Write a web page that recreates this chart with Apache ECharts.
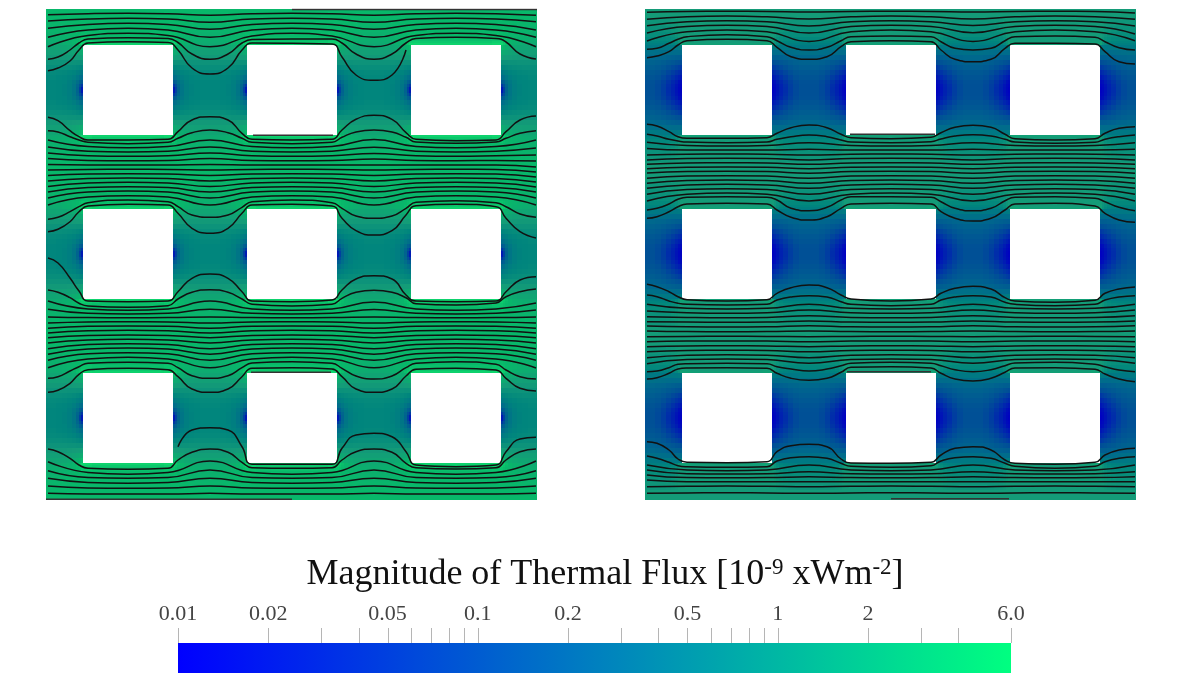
<!DOCTYPE html>
<html>
<head>
<meta charset="utf-8">
<style>html,body{margin:0;padding:0;background:#fff}#main{width:1189px;height:689px}</style>
<script src="https://cdn.jsdelivr.net/npm/echarts@6/dist/echarts.min.js"></script>
</head>
<body>
<div id="main"></div>
<script>
// x = plate position (0-491), y = plate position (9-500, top down)
var stationsNear = [2,12,24,33,42,82,122,132,146,164,182,196,206,246,286,296,310,328,346,360,370,410,450,460,474,490];
var stationsFar = [2,42,82,122,164,206,246,286,328,370,410,450,490];

var leftFar = [
  [14.7,13.7,13.3,13.8,15.3,13.8,13.3,13.8,15.3,13.8,13.3,13.8,15.3],
  [21,19,18.3,19,22.3,19,18.3,19,22.3,19,18.3,19,21.7],
  [28.3,24.5,23.3,24.5,29.3,24.5,23.3,24.5,29.3,24.5,23.3,24.5,30],
  [37.3,30,28.3,30,37.3,30,28.3,30,37.3,30,28.3,30,37.3],
  [46.7,35.5,33.3,35.5,46.7,36,33.3,36,46.7,35.5,33.3,35.5,46.7],

  [140,146.5,147.7,146.5,140,146.5,147.7,146.5,139.5,146.5,147.7,146.5,140],
  [147,151.2,152,151.2,147,151.2,152,151.2,147.3,151.2,152,151.2,148],
  [153,155.8,156.3,155.8,153,155.8,156.3,155.8,153.5,155.8,156.3,155.8,155],
  [158.5,160.4,160.7,160.4,158.5,160.4,160.7,160.4,159,160.4,160.7,160.4,161],
  [164.5,164.9,165,164.9,164.5,164.9,165,164.9,165,164.9,165,164.9,167],
  [170,169.4,169.3,169.4,170,169.4,169.3,169.4,170,169.4,169.3,169.4,172],
  [175.5,174,173.7,174,175.5,174,173.7,174,175.5,174,173.7,174,177],
  [181,178.5,178,178.5,181,178.5,178,178.5,181,178.5,178,178.5,182],
  [186.5,183,182.3,183,186.5,183,182.3,183,186.5,183,182.3,183,187],
  [192,187.5,186.7,187.5,192,187.5,186.7,187.5,192,187.5,186.7,187.5,192],
  [198,192,191,192,198,192,191,192,198,192,191,192,198],
  [205,197,195.7,197,205,197,195.7,197,205,197,195.7,197,205],

  [301,308.9,310.3,308.9,301,308.9,310.3,308.9,302,308.9,310.3,308.9,303],
  [309.3,313.3,314,313.3,309.3,313.3,314,313.3,309.5,313.3,314,313.3,310],
  [317,317.6,317.7,317.6,317,317.6,317.7,317.6,317,317.6,317.7,317.6,317],
  [323,321.9,321.7,321.9,323,321.9,321.7,321.9,323,321.9,321.7,321.9,323],
  [328.3,326.3,326,326.3,328.3,326.3,326,326.3,328.3,326.3,326,326.3,328.3],
  [333,330.7,330.3,330.7,333,330.7,330.3,330.7,333,330.7,330.3,330.7,333],
  [337.7,335.4,335,335.4,337.7,335.4,335,335.4,337.7,335.4,335,335.4,337.7],
  [343,339.9,339.3,339.9,343,339.9,339.3,339.9,343,339.9,339.3,339.9,343],
  [348.7,344.5,343.7,344.5,348.7,344.5,343.7,344.5,348.7,344.5,343.7,344.5,348.7],
  [354.3,349,348,349,354.3,349,348,349,354.3,349,348,349,354.3],
  [360.3,353.8,352.7,353.8,360.3,353.8,352.7,353.8,360.3,353.8,352.7,353.8,360.3],
  [367.7,358.9,357.3,358.9,367.7,358.9,357.3,358.9,367.7,358.9,357.3,358.9,368],

  [461.7,472.5,474.3,472.5,461,472.5,474.3,472.5,461,472.5,474.3,472.5,461],
  [470.7,477.5,478.3,477.5,470,477.5,478.3,477.5,470,477.5,478.3,477.5,470.7],
  [478.3,482.5,483.3,482.5,478.3,482.5,483.3,482.5,478.3,482.5,483.3,482.5,478.3],
  [486,488,488.3,488,486,488,488.3,488,486,488,488.3,488,486],
  [493.3,494,494,494,493.3,494,494,494,493.3,494,494,494,493.3]
];

var leftNear = [
  [59.3,57,50,43,39,37.7,38.5,42.5,54,59.3,54,43,39.5,39,39,43,54,59.3,54,43,38.5,37.3,38.5,42,54,59],
  [70.7,68,61,50,43,41.7,42.5,50,68,74,68,50,43,43.3,44,57,75,80.3,75,50],

  [117.3,120.7,130.7,136.7,140,140,139.3,131.7,120,116.7,120,133.3,139.3,140,139.3,130,119.3,115.3,119.3,132.7,139.3,140.7,140,131.7,120,116],
  [130.7,132,136.7,140,142.3,143.7,142.3,138.3,132.7,130,132.7,138.3,142.3,143.7,142.3,137.3,132,130,132,137.3,142,143.3,142,138.3,133.3,130.7],
  [219.3,217.3,211.7,206.7,202.7,200,201.7,206.7,215,217.3,215,207.3,201.7,200,202.7,208.3,216,218.3,216,208.3,202.3,200.7,202.7,206.7,214,217.3],
  [231.7,229.3,221.7,211.7,206,204.3,205,213.3,228.3,233.3,228.3,213.3,205,204.3,206,218.3,230.7,235,230.7,215,205.7,204.3,206.7,218.3,231.7,238],

  [258,263,278,291,301,301.7,301,291.7,278.3,274,278.3,291.7,301,301.7,300,290,279,275.7,279,295,301,301.7,301,291.7,280,276.7],
  [290,292.3,297.7,303.3,306,307.3,305.7,299,292.3,289.7,292.3,299,304.3,306,304.3,298.3,292.3,290.3,292.3,297.7,303.7,305,303,296.7,291.7,289],
  [378.3,376.7,371,366.7,363.3,362.3,363.3,367.7,375.7,378.3,375.7,367.7,363,361.7,363.3,368.3,376,379,376,367.7,363.3,361.7,364.3,370,376.7,379],
  [392.3,390.3,383.3,374.3,369.7,368.3,369.7,376.7,389,392.3,389,376.7,368.3,367.7,369,376.7,389,392.3,389,376,369.3,368.3,370,378.3,388.3,391],

  [null,null,null,null,null,null,null,446.7,430,427.7,430,446.7,464.3,464.3,464.3,448.3,435,433.3,436.7,451.7,465,466.7,465,451.7,439,437.3],
  [449,451.7,458.3,465,468.3,469.3,468.3,460,452.3,449,452.3,462.3,467.7,468.3,467.7,460,451.7,449,452.3,463.3,467.7,469,467.7,460,451.7,449]
];

var rightFar = [
  [12.3,11.5,11.3,11.5,12,11.5,11.3,11.5,12,11.5,11.3,11.5,13],
  [19.3,16.8,16,16.8,19,16.8,16,16.8,19,16.8,16,16.8,19.3],
  [25.7,21.7,20.7,21.7,26,21.7,20.7,21.7,25.5,21.7,20.7,21.7,26],
  [33,26.5,25.3,26.5,33,26.5,25.3,26.5,32.7,26.5,25.3,26.5,34],
  [41,31.7,30,31.7,41.5,31.7,30,31.7,41.5,31.7,30,31.7,40.7],

  [142.3,145.5,146,145.5,142.7,145.5,146,145.5,142.7,145.5,146,145.5,142.7],
  [148.5,150,150,150,149.3,150,150,150,149.3,150,150,150,149.3],
  [155,154.2,154,154.2,155,154.2,154,154.2,155,154.2,154,154.2,155],
  [160,158.6,158.3,158.6,160,158.6,158.3,158.6,160,158.6,158.3,158.6,160],
  [164.3,162.9,162.7,162.9,164.3,162.9,162.7,162.9,164.3,162.9,162.7,162.9,164.3],
  [168.7,167.3,167,167.3,168.7,167.3,167,167.3,168.7,167.3,167,167.3,168.7],
  [173,171.6,171.3,171.6,173.3,171.6,171.3,171.6,173.3,171.6,171.3,171.6,173.3],
  [178.3,176.1,175.7,176.1,178.3,176.1,175.7,176.1,178.3,176.1,175.7,176.1,178.3],
  [183.3,180.5,180,180.5,183.3,180.5,180,180.5,183.3,180.5,180,180.5,183.3],
  [188.3,184.9,184.3,184.9,188.3,184.9,184.3,184.9,188.3,184.9,184.3,184.9,188.3],
  [194.3,189.5,188.7,189.5,194.3,189.5,188.7,189.5,194.3,189.5,188.7,189.5,194.3],
  [201,194.2,193,194.2,201,194.2,193,194.2,201,194.2,193,194.2,201],

  [304.3,308.3,309,308.3,304.3,308.3,309,308.3,304.3,308.3,309,308.3,304.3],
  [311,312.8,313.3,312.8,310,312.8,313.3,312.8,310,312.8,313.3,312.8,310],
  [316.7,317.4,317.7,317.4,315.7,317.4,317.7,317.4,315.7,317.4,317.7,317.4,315.7],
  [321.7,322.1,322.3,322.1,321,322.1,322.3,322.1,321,322.1,322.3,322.1,321],
  [326,326.8,327,326.8,325.7,326.8,327,326.8,325.7,326.8,327,326.8,325.7],
  [331,331.6,331.7,331.6,331,331.6,331.7,331.6,331,331.6,331.7,331.6,331],
  [336.7,336.4,336.3,336.4,336.7,336.4,336.3,336.4,336.7,336.4,336.3,336.4,336.7],
  [341.7,341.1,341,341.1,341.7,341.1,341,341.1,341.7,341.1,341,341.1,341.7],
  [346.7,345.9,345.7,345.9,346.7,345.9,345.7,345.9,346.7,345.9,345.7,345.9,346.7],
  [351.7,350.5,350.3,350.5,351.7,350.5,350.3,350.5,351.7,350.5,350.3,350.5,351.7],
  [357.7,355.2,354.7,355.2,357.7,355.2,354.7,355.2,357.7,355.2,354.7,355.2,357.7],
  [363.7,359.6,359,359.6,363.3,359.6,359,359.6,363.3,359.6,359,359.6,363.3],

  [465,469.9,470.7,469.9,465,469.9,470.7,469.9,465,469.9,470.7,469.9,465],
  [470,473.7,474,473.7,471.7,473.7,474,473.7,471.7,473.7,474,473.7,471.7],
  [475,477.6,477.7,477.6,476.7,477.6,477.7,477.6,476.7,477.6,477.7,477.6,476.7],
  [480,481.7,481.7,481.7,481.7,481.7,481.7,481.7,481.7,481.7,481.7,481.7,481.7],
  [486.7,486.3,486,486.3,486.7,486.3,486,486.3,486.7,486.3,486,486.3,486.7],
  [493.3,493,492.7,493,493.3,493,492.7,493,493.3,493,492.7,493,493.3]
];

var rightNear = [
  [49.3,48.3,43.3,39.3,36.7,34.7,36.7,40.7,47.3,50,47.3,40.7,36.7,36,36.7,41.7,48.3,50,48.3,40.7,36.7,36,37.3,41.7,47.7,50],
  [57.7,56,51.7,45,40.7,39.3,40.7,47.3,56.7,59.3,56.7,46.7,41.7,40.7,41.7,50,59.3,61.7,59.3,48.3,43.3,43.3,44,51.7,61.7,64],

  [124.3,126,131.7,136.7,138.3,138.3,137.7,133.3,127.7,125,127.7,134.3,137.7,138.7,137.3,132.7,127.3,125.3,127.3,134.3,138.7,140,138.7,133.3,128.3,126.7],
  [134.3,136,139.3,141,142,142.7,142,139.3,136.7,135,136.7,140,142,142.7,141.7,139,136,134.7,136,139.3,142,143.3,142.3,139.3,136.7,135],
  [210,208.3,204,199.3,197.3,196.7,197.3,200,208.3,210.7,207.3,200,196.7,196.7,197.3,201.7,208.3,210.7,208.3,200.7,197.3,196.7,198.3,201.7,207.3,210.7],
  [218.3,216.7,211.7,206.7,204,203.3,204,210,217.3,220,216.7,208.3,204,203.3,204,211.7,218.3,221,218.3,210,204,203.3,206,213.3,220,222.3],

  [284.3,286.7,291.7,296.7,299.7,301,299.7,293.3,287.7,285,287.7,295,299,301,299,293.3,288.3,286.3,289,297.7,301,302.3,300.3,293.3,289,287],
  [295,296.7,301,303.3,304.3,305,304.3,300,297,295.7,297,301.7,304.3,305.7,304.3,300,297,295.7,297,302.3,304.3,305.7,304.3,300,297,295.7],
  [371.7,371,367.7,364.3,363.7,363.3,363.7,366.7,369,371,369,365.7,363.3,362.3,363.3,365.7,369.7,371.7,369.7,365.7,363,362.3,364.3,366.7,370,371.7],
  [379,377.7,373.3,369,368,367.7,368.3,373.3,378.3,380.3,378.3,372.3,367.3,366.7,368,373.3,379,381,378.3,372.3,368,367.7,369.3,374,379,381.7],

  [441.7,443.3,450,459,462.3,462.7,461.7,451.7,445.7,444.3,446.7,459,463,463.3,462.3,455,448.3,446.7,450,460,463.3,464.3,462.3,455,450,448.3],
  [456,458.3,462.3,465.7,466.7,467.3,466.7,461,457.7,456.7,458.3,463.3,466.3,467.3,465.7,461,457.7,456.7,458.3,463.3,466.3,468.3,466.3,461.7,458.3,456.7]
];

// short dark pieces on hole and plate edges: x from, x to, y
var leftEdges = [[207,287,135.3],[205,285,372.3],[246,491,9.5],[0,246,499.3]];
var rightEdges = [[205,290,134.3],[202,286,371.7],[246,364,498.7]];

var cellX = [0,20,36,45,47,49,52,56,61,66,72,82];
var cellY = [0,3,6,10,15,20,25,30,35,40,45,47,49,53,58,64,72,82];
var holeCentreX = [82,246,410];
var holeCentreY = [90,254,418];

var fluxLeft = [
  [null,null,null,.025,.06,.13,.2,.25,.28,.3,.31],
  [null,null,null,.05,.08,.14,.2,.25,.28,.3,.31],
  [null,null,null,.1,.12,.17,.22,.26,.29,.3,.31],
  [null,null,null,.16,.18,.21,.25,.28,.3,.31,.32],
  [null,null,null,.22,.24,.26,.29,.31,.32,.33,.34],
  [null,null,null,.3,.31,.32,.34,.35,.36,.37,.37],
  [null,null,null,.4,.4,.4,.41,.41,.42,.42,.42],
  [null,null,null,.55,.53,.51,.5,.49,.48,.48,.48],
  [null,null,null,.75,.7,.65,.61,.58,.56,.55,.55],
  [null,null,null,1.1,.95,.85,.76,.7,.66,.64,.63],
  [1.8,1.8,2,2,1.5,1.2,.95,.85,.8,.75,.72],
  [1.4,1.4,1.6,1.6,1.3,1.1,.95,.87,.82,.78,.76],
  [1.2,1.2,1.3,1.3,1.15,1.02,.95,.9,.85,.82,.8],
  [1.05,1.05,1.1,1.1,1.02,.98,.95,.92,.88,.86,.85],
  [1,1,1,1,1,.98,.95,.94,.92,.9,.9],
  [1,1,1,1,1,1,1,.98,.97,.96,.95],
  [1,1,1,1,1,1,1,1,1,1,1]
];

var fluxRight = [
  [null,null,null,.013,.016,.022,.03,.04,.055,.07,.08],
  [null,null,null,.014,.017,.023,.031,.042,.056,.07,.08],
  [null,null,null,.017,.02,.027,.035,.046,.06,.073,.082],
  [null,null,null,.024,.028,.034,.043,.054,.067,.08,.088],
  [null,null,null,.035,.04,.046,.055,.066,.078,.09,.097],
  [null,null,null,.05,.055,.062,.07,.08,.092,.103,.11],
  [null,null,null,.075,.08,.085,.092,.1,.11,.12,.125],
  [null,null,null,.11,.11,.115,.12,.125,.135,.14,.145],
  [null,null,null,.16,.16,.16,.16,.165,.17,.175,.18],
  [null,null,null,.24,.23,.22,.22,.22,.22,.22,.225],
  [.55,.55,.6,.6,.4,.33,.29,.27,.26,.26,.26],
  [.5,.5,.55,.55,.42,.36,.32,.3,.29,.29,.29],
  [.5,.5,.5,.5,.44,.38,.35,.33,.32,.32,.32],
  [.5,.5,.5,.5,.46,.42,.39,.37,.36,.36,.36],
  [.5,.5,.5,.5,.48,.45,.43,.41,.4,.4,.4],
  [.5,.5,.5,.5,.5,.48,.46,.45,.44,.44,.44],
  [.5,.5,.5,.5,.5,.5,.5,.5,.5,.5,.5]
];

// colours as they appear on the plates
var fieldFlux = [.012,.02,.04,.08,.15,.3,.5,1,2];
var fieldRgb = [[0,0,195],[0,15,185],[0,45,170],[0,80,150],[0,105,140],[0,133,125],[20,155,120],[8,183,106],[15,215,110]];

var barRange = [0.01,6];
var barColors = ['#0000ff','#00ff80'];
var barTicks = [.01,.02,.03,.04,.05,.06,.07,.08,.09,.1,.2,.3,.4,.5,.6,.7,.8,.9,1,2,3,4,6];
var barLabels = [.01,.02,.05,.1,.2,.5,1,2,6];

function fluxColor(v) {
  var i = 0;
  while (i < fieldFlux.length - 2 && v > fieldFlux[i + 1]) i++;
  var t = (Math.log(v) - Math.log(fieldFlux[i])) / (Math.log(fieldFlux[i + 1]) - Math.log(fieldFlux[i]));
  t = Math.max(0, Math.min(1, t));
  var a = fieldRgb[i], b = fieldRgb[i + 1];
  return 'rgb(' + [0,1,2].map(function (k) { return Math.round(a[k] + (b[k] - a[k]) * t); }).join(',') + ')';
}

// the same quarter cell is placed four times around each of the nine holes
function fieldCells(table) {
  var out = [];
  holeCentreX.forEach(function (cx) {
    holeCentreY.forEach(function (cy) {
      [-1,1].forEach(function (sx) {
        [-1,1].forEach(function (sy) {
          table.forEach(function (row, r) {
            row.forEach(function (v, c) {
              if (v === null) return;
              out.push([cx + sx * cellX[c], cx + sx * cellX[c + 1], cy + sy * cellY[r], cy + sy * cellY[r + 1], v]);
            });
          });
        });
      });
    });
  });
  return out;
}

function renderCell(params, api) {
  var p0 = api.coord([api.value(0), api.value(2)]);
  var p1 = api.coord([api.value(1), api.value(3)]);
  // snap to whole pixels or the cells show seams
  var x0 = Math.round(Math.min(p0[0], p1[0])), x1 = Math.round(Math.max(p0[0], p1[0]));
  var y0 = Math.round(Math.min(p0[1], p1[1])), y1 = Math.round(Math.max(p0[1], p1[1]));
  return {
    type: 'rect',
    shape: { x: x0, y: y0, width: x1 - x0, height: y1 - y0 },
    style: { fill: fluxColor(api.value(4)) }
  };
}

function renderBar(params, api) {
  var p0 = api.coord([api.value(0), 0]);
  var p1 = api.coord([api.value(1), 1]);
  return {
    type: 'rect',
    shape: { x: p0[0], y: p1[1], width: p1[0] - p0[0], height: p0[1] - p1[1] },
    style: {
      fill: new echarts.graphic.LinearGradient(0, 0, 1, 0, [
        { offset: 0, color: barColors[0] },
        { offset: 1, color: barColors[1] }
      ])
    }
  };
}

// axisTick.customValues draws nothing on the log axis here, so the ticks are a series on the same axis
function renderTick(params, api) {
  var p0 = api.coord([api.value(0), 1]);
  var p1 = api.coord([api.value(0), 1.5]);
  return {
    type: 'line',
    shape: { x1: Math.round(p0[0]) + 0.5, y1: p0[1], x2: Math.round(p0[0]) + 0.5, y2: p1[1] },
    style: { stroke: '#b5b5b5', lineWidth: 1 }
  };
}

function lineSeries(idx, xs, rows, color) {
  return rows.map(function (row) {
    var pts = [];
    row.forEach(function (y, i) { if (y !== null) pts.push([xs[i], y]); });
    return {
      type: 'line', xAxisIndex: idx, yAxisIndex: idx, data: pts,
      showSymbol: false, silent: true, smooth: 0.5, z: 3,
      lineStyle: { color: color, width: 1.5 }
    };
  });
}

function edgeSeries(idx, rows) {
  return rows.map(function (r) {
    return {
      type: 'line', xAxisIndex: idx, yAxisIndex: idx, data: [[r[0], r[2]], [r[1], r[2]]],
      showSymbol: false, silent: true, z: 3,
      lineStyle: { color: '#333', width: 1.4 }
    };
  });
}

var series = [
  { type: 'custom', xAxisIndex: 0, yAxisIndex: 0, data: fieldCells(fluxLeft), renderItem: renderCell, silent: true, progressive: 0, z: 1, clip: true },
  { type: 'custom', xAxisIndex: 1, yAxisIndex: 1, data: fieldCells(fluxRight), renderItem: renderCell, silent: true, progressive: 0, z: 1, clip: true },
  { type: 'custom', xAxisIndex: 2, yAxisIndex: 2, data: [barRange], renderItem: renderBar, silent: true, z: 1 },
  { type: 'custom', xAxisIndex: 2, yAxisIndex: 2, data: barTicks.map(function (v) { return [v]; }), renderItem: renderTick, silent: true, z: 2 }
];
series = series.concat(
  lineSeries(0, stationsFar, leftFar, '#111'), lineSeries(0, stationsNear, leftNear, '#111'), edgeSeries(0, leftEdges),
  lineSeries(1, stationsFar, rightFar, '#111'), lineSeries(1, stationsNear, rightNear, '#111'), edgeSeries(1, rightEdges)
);

var plateX = { type: 'value', min: 0, max: 491, show: false };
var plateY = { type: 'value', min: 9, max: 500, inverse: true, show: false };

var myChart = echarts.init(document.getElementById('main'));
myChart.setOption({
  animation: false,
  backgroundColor: '#fff',
  title: {
    text: 'Magnitude of Thermal Flux [10{sup|-9} xWm{sup|-2}]',
    left: 600, top: 551, textAlign: 'center',
    textStyle: {
      fontFamily: 'Liberation Serif', fontSize: 36, fontWeight: 'normal', color: '#111',
      rich: { sup: { fontFamily: 'Liberation Serif', fontSize: 23, color: '#111', verticalAlign: 'top', lineHeight: 38 } }
    }
  },
  grid: [
    { left: 46, top: 9, width: 491, height: 491 },
    { left: 645, top: 9, width: 491, height: 491 },
    { left: 178, top: 643, width: 833, height: 30 }
  ],
  xAxis: [plateX, Object.assign({}, plateX, { gridIndex: 1 }), {
    type: 'log', gridIndex: 2, min: barRange[0], max: barRange[1], position: 'top',
    axisLine: { show: false },
    splitLine: { show: false },
    axisTick: { show: false },
    axisLabel: {
      show: true, customValues: barLabels, margin: 18, showMinLabel: true, showMaxLabel: true,
      fontFamily: 'Liberation Serif', fontSize: 22, color: '#444',
      formatter: function (v) { return v === 6 ? '6.0' : String(v); }
    }
  }],
  yAxis: [plateY, Object.assign({}, plateY, { gridIndex: 1 }), { type: 'value', gridIndex: 2, min: 0, max: 1, show: false }],
  series: series
});
</script>
</body>
</html>
